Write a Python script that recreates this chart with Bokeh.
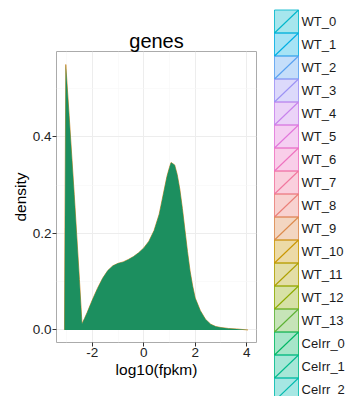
import math
import numpy as np
from bokeh.plotting import figure
from bokeh.layouts import row
from bokeh.models import Range1d, FixedTicker, NumeralTickFormatter
from bokeh.core.properties import value
from bokeh.embed import file_html
from bokeh.resources import INLINE

# ---- data ----
log_fpkm = [-3.08, -3.03, -2.9, -2.7, -2.5, -2.4, -2.3, -2.2, -2.0, -1.8, -1.6, -1.4,
            -1.2, -1.0, -0.8, -0.6, -0.4, -0.2, 0.0, 0.2, 0.4, 0.6, 0.8, 0.9, 1.0,
            1.06, 1.2, 1.3, 1.4, 1.5, 1.6, 1.7, 1.8, 1.9, 2.0, 2.2, 2.4, 2.6, 2.8,
            3.0, 3.3, 3.6, 4.05]
density = [0.0, 0.55, 0.445, 0.28, 0.105, 0.013, 0.024, 0.036, 0.062, 0.086, 0.107,
           0.123, 0.133, 0.138, 0.141, 0.146, 0.152, 0.160, 0.170, 0.184, 0.206,
           0.240, 0.292, 0.318, 0.337, 0.347, 0.342, 0.322, 0.292, 0.252, 0.207,
           0.162, 0.122, 0.091, 0.066, 0.040, 0.022, 0.012, 0.007, 0.005, 0.003,
           0.002, 0.0]

samples = ["WT_0", "WT_1", "WT_2", "WT_3", "WT_4", "WT_5", "WT_6", "WT_7", "WT_8",
           "WT_9", "WT_10", "WT_11", "WT_12", "WT_13", "CeIrr_0", "CeIrr_1", "CeIrr_2"]

x_ticks = [-2, 0, 2, 4]
y_ticks = [0.0, 0.2, 0.4]

FONT = "Liberation Sans"


def hcl_hex(h, c=100.0, l=65.0):
    hr = math.radians(h)
    u, v = c * math.cos(hr), c * math.sin(hr)
    Xn, Yn, Zn = 95.047, 100.0, 108.883
    Y = Yn * ((l + 16) / 116) ** 3 if l > 8 else Yn * l / 903.3
    den = Xn + 15 * Yn + 3 * Zn
    un, vn = 4 * Xn / den, 9 * Yn / den
    up, vp = u / (13 * l) + un, v / (13 * l) + vn
    X = Y * 9 * up / (4 * vp)
    Z = Y * (12 - 3 * up - 20 * vp) / (4 * vp)
    X, Y, Z = X / 100, Y / 100, Z / 100
    rgb = [3.2404542 * X - 1.5371385 * Y - 0.4985314 * Z,
           -0.9692660 * X + 1.8760108 * Y + 0.0415560 * Z,
           0.0556434 * X - 0.2040259 * Y + 1.0572252 * Z]
    out = []
    for ch in rgb:
        ch = 12.92 * ch if ch <= 0.0031308 else 1.055 * ch ** (1 / 2.4) - 0.055
        out.append(int(round(min(max(ch, 0), 1) * 255)))
    return "#%02x%02x%02x" % tuple(out)


colors = [hcl_hex((205.6 + 21.18 * i) % 360, c=80) for i in range(len(samples))]

# ---- main plot ----
p = figure(width=270, height=396, output_backend="svg", toolbar_location=None,
           x_range=Range1d(-3.39, 4.38), y_range=Range1d(-0.026, 0.577),
           min_border_left=56, min_border_right=14, min_border_top=51,
           min_border_bottom=54)
p.frame_align = False
p.background_fill_color = "white"
p.border_fill_color = "white"
p.outline_line_color = "#ABABAB"
p.outline_line_width = 1

p.title.text = "genes"
p.title.align = "center"
p.title.text_font = FONT
p.title.text_font_size = "20px"
p.title.text_font_style = "normal"
p.title.text_color = "#000000"
p.title.standoff = 0

for ax in (p.xaxis[0], p.yaxis[0]):
    ax.axis_line_color = None
    ax.major_tick_line_color = "#333333"
    ax.major_tick_out = 4
    ax.major_tick_in = 0
    ax.minor_tick_line_color = None
    ax.major_label_text_font = FONT
    ax.major_label_text_font_size = "13.5px"
    ax.major_label_text_color = "#222222"
    ax.axis_label_text_font = FONT
    ax.axis_label_text_font_size = "15.5px"
    ax.axis_label_text_font_style = "normal"
    ax.axis_label_text_color = "#000000"
    ax.major_label_standoff = 1
    ax.axis_label_standoff = 1

p.xaxis.ticker = FixedTicker(ticks=x_ticks, minor_ticks=[-3, -1, 1, 3])
p.yaxis.ticker = FixedTicker(ticks=y_ticks, minor_ticks=[0.1, 0.3, 0.5])
p.xaxis.formatter = NumeralTickFormatter(format="0")
p.yaxis.formatter = NumeralTickFormatter(format="0.0")
p.xaxis.axis_label = "log10(fpkm)"
p.yaxis.axis_label = "density"

p.grid.grid_line_color = "#EDEDED"
p.grid.grid_line_width = 1
p.grid.minor_grid_line_color = "#F6F6F6"
p.grid.minor_grid_line_width = 0.6

# outline hint of underlying series, then the top (green) density fill
p.line(log_fpkm, density, line_color="#D39A45", line_width=1.0)
p.varea(x=log_fpkm, y1=[0.0] * len(density), y2=density, fill_color="#1C8F5F",
        fill_alpha=1.0)

# ---- legend panel ----
lg = figure(width=75, height=396, output_backend="svg", toolbar_location=None,
            x_range=Range1d(0, 75), y_range=Range1d(396, 0),
            x_axis_type=None, y_axis_type=None, min_border=0,
            min_border_left=0, min_border_right=0, min_border_top=0,
            min_border_bottom=0)
lg.frame_align = False
lg.title.visible = False
lg.outline_line_color = None
lg.background_fill_color = "white"
lg.border_fill_color = "white"
lg.grid.visible = False

idx = np.arange(len(samples))
key_top = 9.5 + 23.0 * idx
key_bot = key_top + 23.0
lg.quad(left=4, right=28, top=key_top, bottom=key_bot, fill_color=colors,
        fill_alpha=0.35, line_color=colors, line_alpha=0.85, line_width=1)
lg.segment(x0=4, y0=key_bot, x1=28, y1=key_top, line_color=colors, line_width=1.1)
lg.text(x=31, y=key_top + 11.5, text=samples, text_baseline="middle",
        text_align="left", text_font=value(FONT), text_font_size="13px",
        text_color="#1A1A1A")

layout = row(p, lg)
open("out.html", "w").write(file_html(layout, INLINE))
